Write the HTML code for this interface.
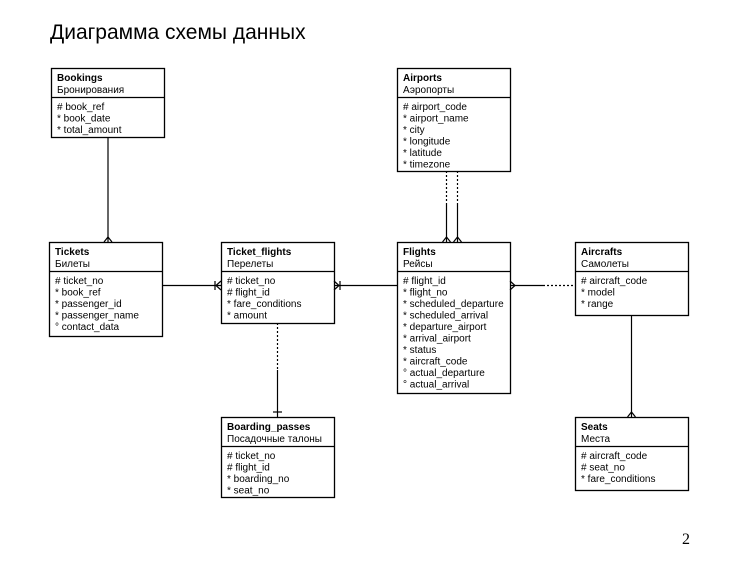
<!DOCTYPE html>
<html><head><meta charset="utf-8"><style>
html,body{margin:0;padding:0;background:#fff;width:755px;height:575px;overflow:hidden}
svg{display:block}
text{font-family:"Liberation Sans",sans-serif;font-size:10px;fill:#000}
.b{font-weight:bold}
</style></head><body>
<svg width="755" height="575" viewBox="0 0 755 575">
<text x="50" y="39" style="font-size:21px">Диаграмма схемы данных</text>
<text x="682" y="544" style="font-family:'Liberation Serif',serif;font-size:16px">2</text>
<g fill="#fff" stroke="#000" stroke-width="1.3">
<rect x="51.5" y="68.5" width="113" height="69"/><line x1="51.5" y1="97.5" x2="164.5" y2="97.5"/>
<rect x="49.5" y="242.5" width="113" height="94"/><line x1="49.5" y1="271.5" x2="162.5" y2="271.5"/>
<rect x="221.5" y="242.5" width="113" height="81"/><line x1="221.5" y1="271.5" x2="334.5" y2="271.5"/>
<rect x="397.5" y="242.5" width="113" height="151"/><line x1="397.5" y1="271.5" x2="510.5" y2="271.5"/>
<rect x="397.5" y="68.5" width="113" height="103"/><line x1="397.5" y1="97.5" x2="510.5" y2="97.5"/>
<rect x="575.5" y="242.5" width="113" height="73"/><line x1="575.5" y1="271.5" x2="688.5" y2="271.5"/>
<rect x="575.5" y="417.5" width="113" height="73"/><line x1="575.5" y1="446.5" x2="688.5" y2="446.5"/>
<rect x="221.5" y="417.5" width="113" height="80"/><line x1="221.5" y1="446.5" x2="334.5" y2="446.5"/>
</g>
<g stroke="#000" stroke-width="1.2" fill="none">
<line x1="108" y1="137" x2="108" y2="242"/><path d="M104 242 L108 237 L112 242"/>
<line x1="162" y1="285.5" x2="221" y2="285.5"/><path d="M221 281 L216 285.5 L221 290 M215 281 L215 290"/>
<line x1="334" y1="285.5" x2="397" y2="285.5"/><path d="M334 281 L339 285.5 L334 290 M340 281 L340 290"/>
<line x1="446.5" y1="171" x2="446.5" y2="205" stroke-dasharray="2,2"/><line x1="446.5" y1="205" x2="446.5" y2="242"/>
<line x1="457.5" y1="171" x2="457.5" y2="205" stroke-dasharray="2,2"/><line x1="457.5" y1="205" x2="457.5" y2="242"/>
<path d="M442.5 242 L446.5 237 L450.5 242 M453.5 242 L457.5 237 L461.5 242"/>
<line x1="510" y1="285.5" x2="543" y2="285.5"/><line x1="543" y1="285.5" x2="575" y2="285.5" stroke-dasharray="2,2"/>
<path d="M510 281 L515 285.5 L510 290"/>
<line x1="631.5" y1="315" x2="631.5" y2="417"/><path d="M627.5 417 L631.5 412 L635.5 417"/>
<line x1="277.5" y1="323" x2="277.5" y2="370" stroke-dasharray="2,2"/><line x1="277.5" y1="370" x2="277.5" y2="417"/>
<line x1="273" y1="412" x2="282" y2="412"/>
</g>
<g>
<text x="57" y="81" class="b">Bookings</text><text x="57" y="93">Бронирования</text>
<text x="57" y="110">#  book_ref</text><text x="57" y="121.5">*  book_date</text><text x="57" y="133">*  total_amount</text>

<text x="55" y="255" class="b">Tickets</text><text x="55" y="267">Билеты</text>
<text x="55" y="284">#  ticket_no</text><text x="55" y="295.5">*  book_ref</text><text x="55" y="307">*  passenger_id</text><text x="55" y="318.5">*  passenger_name</text><text x="55" y="330">°  contact_data</text>

<text x="227" y="255" class="b">Ticket_flights</text><text x="227" y="267">Перелеты</text>
<text x="227" y="284">#  ticket_no</text><text x="227" y="295.5">#  flight_id</text><text x="227" y="307">*  fare_conditions</text><text x="227" y="318.5">*  amount</text>

<text x="403" y="81" class="b">Airports</text><text x="403" y="93">Аэропорты</text>
<text x="403" y="110">#  airport_code</text><text x="403" y="121.5">*  airport_name</text><text x="403" y="133">*  city</text><text x="403" y="144.5">*  longitude</text><text x="403" y="156">*  latitude</text><text x="403" y="167.5">*  timezone</text>

<text x="403" y="255" class="b">Flights</text><text x="403" y="267">Рейсы</text>
<text x="403" y="284">#  flight_id</text><text x="403" y="295.5">*  flight_no</text><text x="403" y="307">*  scheduled_departure</text><text x="403" y="318.5">*  scheduled_arrival</text><text x="403" y="330">*  departure_airport</text><text x="403" y="341.5">*  arrival_airport</text><text x="403" y="353">*  status</text><text x="403" y="364.5">*  aircraft_code</text><text x="403" y="376">°  actual_departure</text><text x="403" y="387.5">°  actual_arrival</text>

<text x="581" y="255" class="b">Aircrafts</text><text x="581" y="267">Самолеты</text>
<text x="581" y="284">#  aircraft_code</text><text x="581" y="295.5">*  model</text><text x="581" y="307">*  range</text>

<text x="581" y="430" class="b">Seats</text><text x="581" y="442">Места</text>
<text x="581" y="459">#  aircraft_code</text><text x="581" y="470.5">#  seat_no</text><text x="581" y="482">*  fare_conditions</text>

<text x="227" y="430" class="b">Boarding_passes</text><text x="227" y="442">Посадочные талоны</text>
<text x="227" y="459">#  ticket_no</text><text x="227" y="470.5">#  flight_id</text><text x="227" y="482">*  boarding_no</text><text x="227" y="493.5">*  seat_no</text>
</g>
</svg>
</body></html>
